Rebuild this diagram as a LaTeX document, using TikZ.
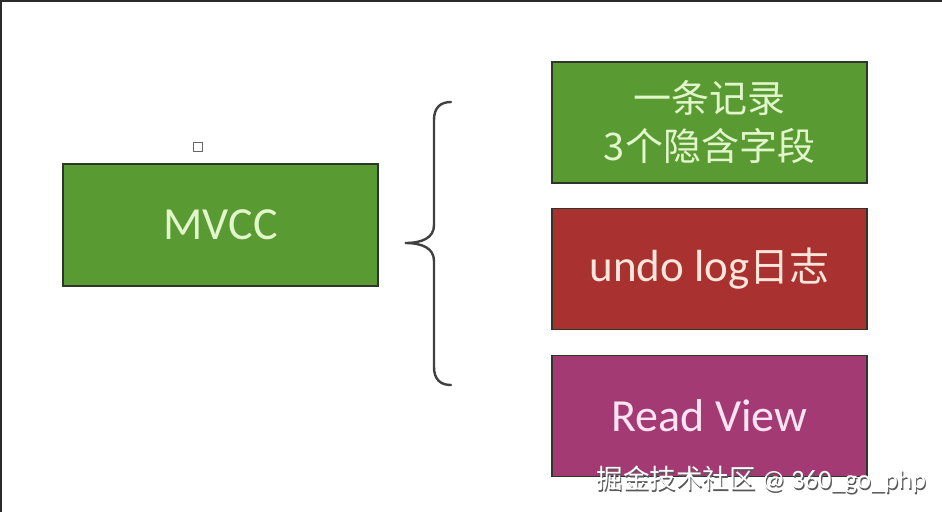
\documentclass[tikz,border=0pt]{standalone}
\usepackage{fontspec}
\setmainfont{Carlito}
\newfontfamily\cjk{Noto Sans CJK SC}
\definecolor{boxgreen}{HTML}{5A9A33}
\definecolor{boxred}{HTML}{A9312F}
\definecolor{boxmag}{HTML}{A43A74}
\definecolor{edge}{HTML}{2E3529}
\definecolor{txtgreen}{HTML}{E2F6CC}
\definecolor{txtred}{HTML}{FCE6DC}
\definecolor{txtmag}{HTML}{FCE4F2}
\definecolor{frame}{HTML}{2B2B2B}
\tikzset{
  blockbox/.style={draw=edge, line width=1.6pt, minimum width=315pt, minimum height=121pt, inner sep=0pt, align=center},
  bigtext/.style={font=\fontsize{46}{52}\selectfont},
}
\begin{document}
\begin{tikzpicture}[x=1pt,y=-1pt]
\useasboundingbox (0,0) rectangle (942,512);
\fill[white] (0,0) rectangle (942,512);
\draw[frame, line width=3pt] (0,512) -- (0,0) -- (942,0);
% left box
\node[blockbox, fill=boxgreen, text=txtgreen, bigtext, minimum height=122pt] (mvcc) at (220.5,225) {MVCC};
\node[draw=gray!80!black, line width=1.4pt, minimum size=9pt, inner sep=0pt] (sq) at (198,147) {};
% right boxes
\node[blockbox, fill=boxgreen, text=txtgreen, font=\fontsize{38}{48}\selectfont\cjk] (rec) at (709.5,122.5) {一条记录\\3个隐含字段};
\node[blockbox, fill=boxred, text=txtred] (undo) at (709.5,269) {\fontsize{45}{48}\selectfont undo log{\cjk\fontsize{40}{48}\selectfont 日志}};
\node[blockbox, fill=boxmag, text=txtmag, bigtext] (rv) at (709.5,416) {Read View};
% brace
\coordinate (btop) at (451,102);
\coordinate (btip) at (405,243);
\coordinate (bbot) at (451,385);
\draw[frame!90, line width=2.4pt, line cap=round]
  (btop) .. controls (440,102) and (434,108) .. (434,120)
  -- (434,225) .. controls (434,238) and (422,243) .. (btip)
  .. controls (422,243) and (434,248) .. (434,261)
  -- (434,367) .. controls (434,379) and (440,385) .. (bbot);
% watermark
\node[anchor=west, text=gray!70!black, font=\fontsize{26.5}{28}\selectfont] (wms) at (594.2,481.2) {{\cjk 掘金技术社区} @ 360\_go\_php};
\node[anchor=west, text=white, font=\fontsize{26.5}{28}\selectfont] (wm) at (593,480) {{\cjk 掘金技术社区} @ 360\_go\_php};
\end{tikzpicture}
\end{document}
